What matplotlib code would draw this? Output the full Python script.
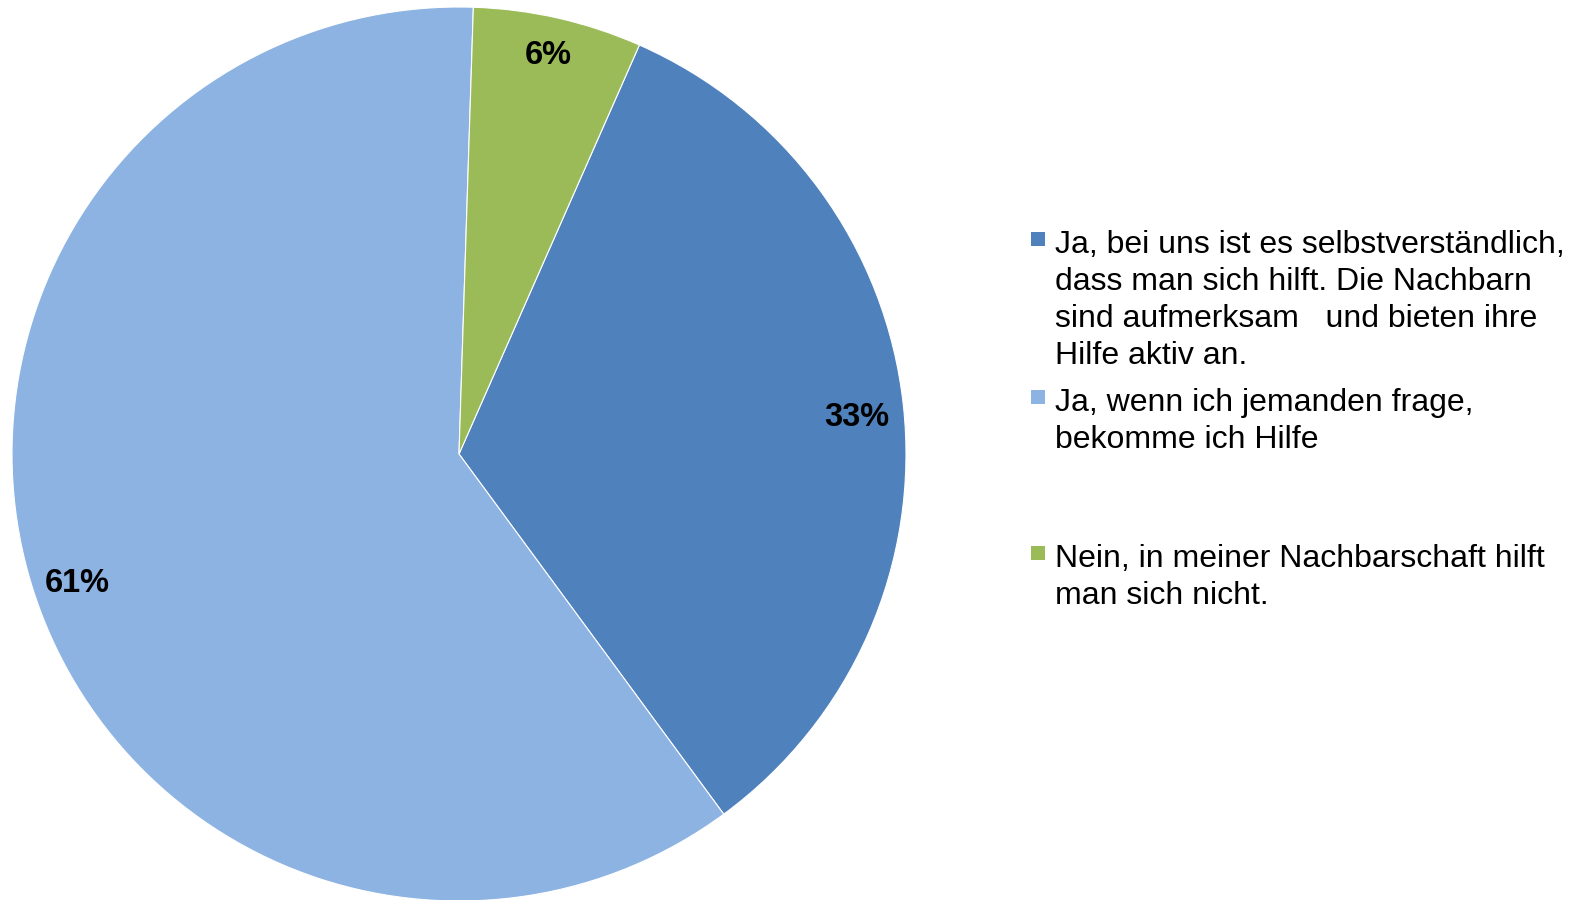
import matplotlib
matplotlib.use("Agg")
import matplotlib.pyplot as plt
from matplotlib.patches import Rectangle

categories = [
    "Ja, bei uns ist es selbstverständlich,\ndass man sich hilft. Die Nachbarn\nsind aufmerksam   und bieten ihre\nHilfe aktiv an.",
    "Ja, wenn ich jemanden frage,\nbekomme ich Hilfe",
    "Nein, in meiner Nachbarschaft hilft\nman sich nicht.",
]
values = [33.3, 60.6, 6.1]
colors = ["#4F81BD", "#8DB3E2", "#9BBB59"]

W, H = 1581, 900
fig = plt.figure(figsize=(W / 100, H / 100), dpi=100)
plt.rcParams['font.family'] = ['Liberation Sans', 'DejaVu Sans']

cx, cy, r = 459, 454, 447
ax = fig.add_axes([(cx - r) / W, (H - cy - r) / H, 2 * r / W, 2 * r / H])
wedges, texts, autotexts = ax.pie(
    values, colors=colors, startangle=66.2, counterclock=False,
    radius=1.0, autopct=lambda p: f"{p:.0f}%", pctdistance=0.9,
    wedgeprops=dict(edgecolor="white", linewidth=0.8),
    textprops=dict(fontsize=23.5, fontweight="bold", color="black"),
)
# fine label placement (pixel centres as in the original layout)
label_px = [(857, 417), (77, 584), (548, 55)]
for t, (px, py) in zip(autotexts, label_px):
    t.set_position(((px - cx) / r, (cy - py) / r))
ax.set_xlim(-1, 1)
ax.set_ylim(-1, 1)
ax.set_aspect("equal")
ax.axis("off")

# Legend (Excel-style equal slots)
entry_base = [253, 411, 567]
line_h = 37
for lab, col, yb in zip(categories, colors, entry_base):
    fig.patches.append(Rectangle((1031 / W, 1 - (yb - 7) / H),
                                 14 / W, 14 / H, transform=fig.transFigure,
                                 facecolor=col, edgecolor="none"))
    for i, line in enumerate(lab.split("\n")):
        fig.text(1055 / W, 1 - (yb + i * line_h) / H, line, fontsize=23,
                 ha="left", va="baseline", color="black")

fig.savefig("out.png", dpi=100)
